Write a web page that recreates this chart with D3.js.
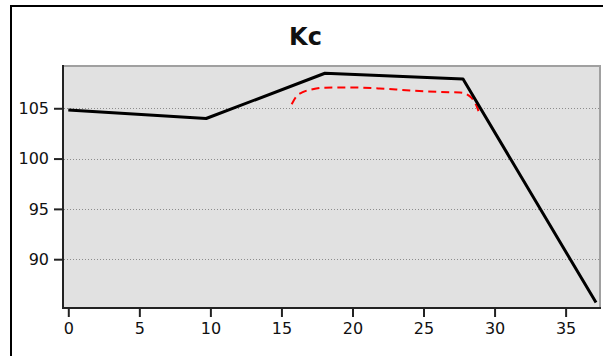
<!DOCTYPE html>
<html>
<head>
<meta charset="utf-8">
<script src="https://cdn.jsdelivr.net/npm/d3@7"></script>
<style>
  html, body { margin: 0; padding: 0; background: #ffffff; }
  svg { display: block; }
  text { font-family: "DejaVu Sans", sans-serif; fill: #111; }
</style>
</head>
<body>
<svg id="chart" width="603" height="356"></svg>
<script>
// ---- data ----
const chartTitle = "Kc";
const xTicks = [0, 5, 10, 15, 20, 25, 30, 35];
const yTicks = [90, 95, 100, 105];
const kcX = [0, 9.7, 18.06, 27.78, 37.14];
const kcY = [104.83, 103.98, 108.48, 107.9, 85.69];
const refX = [15.72, 16.02, 16.5, 17.2, 18.06, 19.8, 21.9, 24.05, 26.16, 27.57, 28.0, 28.4, 28.7, 28.98];
const refY = [105.4, 106.12, 106.6, 106.89, 107.05, 107.07, 106.97, 106.77, 106.62, 106.57, 106.42, 106.0, 105.33, 104.23];

// ---- layout ----
const svg = d3.select("#chart");
const plot = { left: 63, right: 600, top: 66, bottom: 308 };

const x = d3.scaleLinear().domain([-0.373, 37.42]).range([plot.left, plot.right]);
const y = d3.scaleLinear().domain([85.15, 109.2]).range([plot.bottom, plot.top]);

// outer frame
svg.append("rect")
  .attr("x", 11).attr("y", 6).attr("width", 700).attr("height", 500)
  .attr("fill", "none").attr("stroke", "#000").attr("stroke-width", 2);

// title
svg.append("text")
  .attr("x", 305.5).attr("y", 45)
  .attr("text-anchor", "middle")
  .style("font-size", "24px").style("font-weight", "bold")
  .text(chartTitle);

// plot background
svg.append("rect")
  .attr("x", plot.left).attr("y", plot.top)
  .attr("width", plot.right - plot.left).attr("height", plot.bottom - plot.top)
  .attr("fill", "#e1e1e1")
  .attr("stroke", "#a0a0a0").attr("stroke-width", 2);

// gridlines
svg.append("g").selectAll("line").data(yTicks).join("line")
  .attr("x1", plot.left + 1).attr("x2", plot.right - 1)
  .attr("y1", d => Math.round(y(d)) + 0.5).attr("y2", d => Math.round(y(d)) + 0.5)
  .attr("stroke", "#8c8c8c").attr("stroke-width", 1)
  .attr("stroke-dasharray", "1,2");

// axes lines (left and bottom dark)
svg.append("line")
  .attr("x1", plot.left).attr("x2", plot.left)
  .attr("y1", plot.top - 1).attr("y2", plot.bottom + 1)
  .attr("stroke", "#222").attr("stroke-width", 2);
svg.append("line")
  .attr("x1", plot.left - 1).attr("x2", plot.right + 1)
  .attr("y1", plot.bottom).attr("y2", plot.bottom)
  .attr("stroke", "#222").attr("stroke-width", 2);

// y axis
const yAxis = d3.axisLeft(y).tickValues(yTicks).tickSize(8).tickPadding(5).tickFormat(d3.format("d"));
const gy = svg.append("g").attr("transform", `translate(${plot.left - 1},0)`).call(yAxis);
gy.select(".domain").remove();
gy.selectAll(".tick line").attr("stroke", "#222").attr("stroke-width", 2);
gy.selectAll(".tick text").style("font-size", "16px").attr("fill", "#111")
  .style("font-family", "'DejaVu Sans', sans-serif");

// x axis
const xAxis = d3.axisBottom(x).tickValues(xTicks).tickSize(8).tickPadding(6).tickFormat(d3.format("d"));
const gx = svg.append("g").attr("transform", `translate(0,${plot.bottom + 1})`).call(xAxis);
gx.select(".domain").remove();
gx.selectAll(".tick line").attr("stroke", "#222").attr("stroke-width", 2);
gx.selectAll(".tick text").style("font-size", "16px").attr("fill", "#111")
  .style("font-family", "'DejaVu Sans', sans-serif");

// red dashed line
const refData = refX.map((v, i) => [v, refY[i]]);
svg.append("path")
  .datum(refData)
  .attr("fill", "none").attr("stroke", "#ff0000").attr("stroke-width", 2)
  .attr("stroke-dasharray", "8,5")
  .attr("d", d3.line().x(d => x(d[0])).y(d => y(d[1])).curve(d3.curveMonotoneX));

// black line
const kcData = kcX.map((v, i) => [v, kcY[i]]);
svg.append("path")
  .datum(kcData)
  .attr("fill", "none").attr("stroke", "#000").attr("stroke-width", 3)
  .attr("stroke-linejoin", "round")
  .attr("d", d3.line().x(d => x(d[0])).y(d => y(d[1])));
</script>
</body>
</html>
